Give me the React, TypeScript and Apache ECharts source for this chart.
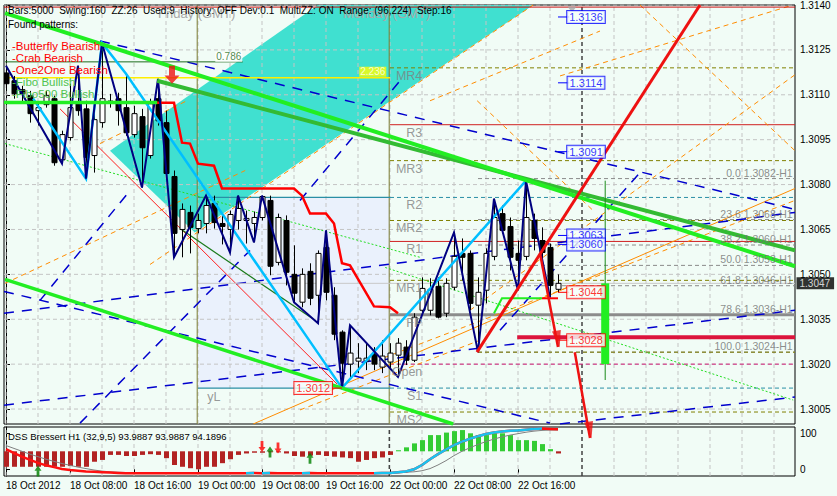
import React, { useEffect, useRef } from 'react';
import * as echarts from 'echarts';

const FONT = '"Liberation Sans", Arial, Helvetica, sans-serif';
const BG = '#f1fcf6';

// ---- hourly candles, index 0 = 18 Oct 2012 00:00 (index 48 = 22 Oct 00:00) ----
const opens = [
  1.31173, 1.31147, 1.31117, 1.31097, 1.31047, 1.31067, 1.31087, 1.30883, 1.30957, 1.3107,
  1.31053, 1.30897, 1.31007, 1.31077, 1.31087, 1.31057, 1.30967, 1.31027, 1.30897, 1.31087,
  1.31007, 1.30827, 1.3065, 1.30707, 1.30653, 1.3067, 1.30737, 1.3067, 1.3065, 1.3068,
  1.3068, 1.3067, 1.3069, 1.30747, 1.3054, 1.3068, 1.305, 1.30407, 1.3051, 1.3043,
  1.3059, 1.3043, 1.30307, 1.302, 1.3021, 1.3021, 1.30233, 1.3019, 1.30207, 1.3023,
  1.30257, 1.30213, 1.3038, 1.3038, 1.3046, 1.3037, 1.30457, 1.3057, 1.3057, 1.30397,
  1.30447, 1.3056, 1.30703, 1.3066, 1.3057, 1.3056, 1.3068, 1.30613, 1.3059, 1.3045,
];
const closes = [
  1.31137, 1.31103, 1.31103, 1.31037, 1.31057, 1.31097, 1.30873, 1.30967, 1.31057, 1.31047,
  1.3089, 1.31017, 1.31087, 1.31079, 1.31047, 1.30973, 1.31037, 1.30923, 1.3107, 1.31013,
  1.30837, 1.30637, 1.30717, 1.30657, 1.3068, 1.3073, 1.30673, 1.3066, 1.307, 1.3072,
  1.30687, 1.3069, 1.3076, 1.30527, 1.3069, 1.30507, 1.30437, 1.305, 1.3042, 1.3057,
  1.3044, 1.303, 1.30203, 1.30237, 1.3022, 1.3022, 1.302, 1.30227, 1.30237, 1.3027,
  1.30213, 1.30357, 1.30453, 1.3045, 1.30357, 1.3047, 1.3056, 1.30557, 1.30403, 1.3044,
  1.3057, 1.3069, 1.30647, 1.30557, 1.30547, 1.3069, 1.3062, 1.30573, 1.30463, 1.3047,
];
const lows = [
  1.31113, 1.31087, 1.31073, 1.31007, 1.30997, 1.31057, 1.30863, 1.3087, 1.30947, 1.3103,
  1.3082, 1.3084, 1.3099, 1.31057, 1.30997, 1.30963, 1.30957, 1.3079, 1.30887, 1.30997,
  1.30823, 1.30557, 1.30557, 1.3057, 1.30637, 1.30637, 1.30653, 1.306, 1.30573, 1.3065,
  1.30603, 1.30607, 1.3068, 1.30497, 1.3053, 1.30463, 1.30407, 1.3039, 1.30397, 1.30337,
  1.30413, 1.3028, 1.3012, 1.30157, 1.3017, 1.3018, 1.3018, 1.3017, 1.3018, 1.30157,
  1.30197, 1.30207, 1.3037, 1.30363, 1.30353, 1.30357, 1.30447, 1.3048, 1.3038, 1.3024,
  1.30403, 1.30547, 1.30637, 1.30513, 1.30447, 1.30547, 1.3058, 1.30553, 1.30423, 1.3044,
];
const highs = [
  1.31197, 1.31163, 1.3113, 1.31113, 1.31073, 1.31113, 1.31097, 1.3098, 1.31137, 1.31197,
  1.3108, 1.31057, 1.31273, 1.31103, 1.31107, 1.3117, 1.31063, 1.31053, 1.31087, 1.31153,
  1.31047, 1.30847, 1.30737, 1.3073, 1.30703, 1.30763, 1.30763, 1.30703, 1.30713, 1.30763,
  1.30713, 1.3071, 1.30763, 1.30763, 1.30703, 1.30697, 1.30597, 1.3052, 1.30537, 1.3058,
  1.30647, 1.30457, 1.30313, 1.3033, 1.3027, 1.3027, 1.30257, 1.3028, 1.3027, 1.30287,
  1.3028, 1.3037, 1.3049, 1.30487, 1.3049, 1.30487, 1.3064, 1.3062, 1.3058, 1.3049,
  1.30587, 1.30753, 1.3073, 1.3069, 1.30613, 1.30813, 1.30703, 1.30657, 1.30603, 1.305,
];

// ---- DSS Bressert pane ----
const dssHist = [
  7, 7, 7, 7, 7, 7, 7, 7, 9, 7,
  7, 21, 26, 40, 40, 37, 37, 40, 42, 40,
  31, 12, 7, 3, 0, 7, 7, 17, 28, 40,
  44, 46, 46, 48, 47, 44, 37, 35, 38, 40,
  37, 35, 33, 31, 21, 26, 31, 33, 40, 53,
  61, 72, 81, 95, 95, 102, 106, 109, 100, 95,
  95, 100, 100, 95, 81, 81, 79, 70, 56, 44,
];
const dssMain = [
  56, 45, 35, 26, 18, 11, 6, 1, -2, -4,
  -6, -7, -8, -9, -10, -11, -11, -11, -11, -11,
  -11, -11, -11, -11, -11, -11, -11, -11, -11, -11,
  -11, -10, -11, -10, -11, -11, -11, -11, -10, -11,
  -11, -11, -11, -11, -11, -11, -11, -10.5, -10, -8,
  -6, 0, 12, 28, 42, 55, 67, 77, 85, 92,
  98, 102, 105, 107, 108, 110, 112, 113, 112, 111,
];
const dssSignal = [
  66, 58, 50, 42, 35, 28, 22, 16, 11, 6,
  2, -2, -5, -7, -8, -9, -9.5, -9.5, -9.5, -9.5,
  -9.5, -9.5, -9.5, -9.5, -9.5, -9.5, -9.5, -9.5, -9.5, -9.5,
  -9.5, -9.5, -9.5, -9.5, -9.5, -9.5, -9.5, -9.5, -9.5, -9.5,
  -9.5, -9.5, -9.5, -9.5, -9.5, -9.5, -9.5, -9.5, -9.5, -9.5,
  -8, -7, -4, 2, 12, 24, 38, 50, 60, 69,
  77, 84, 90, 95, 99, 103, 106, 108, 109, 109,
];
const dssUpArrows = [[4, -5], [33, 48], [38, 31]];
const dssDownArrows = [[32, 63], [34, 59]];

// ---- axes ----
const priceTicks = [1.3005, 1.302, 1.3035, 1.305, 1.3065, 1.308, 1.3095, 1.311, 1.3125, 1.314];
const timeTickIdx = [0, 8, 16, 24, 32, 40, 48, 56, 64];
const timeTickLabels = ['18 Oct 2012', '18 Oct 08:00', '18 Oct 16:00', '19 Oct 00:00', '19 Oct 08:00', '19 Oct 16:00', '22 Oct 00:00', '22 Oct 08:00', '22 Oct 16:00'];
const gridIdx = [0, 4, 8, 12, 16, 20, 24, 28, 32, 36, 40, 44, 48, 52, 56, 60, 64, 68, 72, 76, 80, 84, 88, 92, 96];
const daySeparators = [23.9, 47.9];
const nowMarker = 72;
const lastPrice = 1.3047;

// ---- objects drawn on the chart (time index, price) ----
const cyanPoly = [[13, 1.30913], [23.6, 1.3064], [65.9, 1.314], [39, 1.314]];
const lavRect = [[24, 1.30757], [48, 1.3012]];
const zigzagNavy = [[0, 1.31197], [7, 1.3087], [9, 1.31197], [10, 1.3082], [12, 1.31273], [17, 1.3079], [19, 1.31153], [21, 1.30557], [25, 1.30763], [28, 1.30573], [29, 1.30763], [31, 1.30607], [32, 1.30763], [36, 1.30407], [39, 1.30337], [40, 1.30647], [42, 1.3012], [43, 1.3033], [49, 1.30157], [56, 1.3064], [59, 1.3024], [61, 1.30753], [64, 1.30447], [65, 1.30813], [68, 1.30423]];
const zigzagSky = [[3.4, 1.31087], [10, 1.3082], [12, 1.31273], [15, 1.3117], [42, 1.3012], [65, 1.30813]];
const kijun = [[16, 1.31073], [21, 1.31073], [22, 1.3094], [23, 1.30937], [24, 1.3087], [26, 1.30863], [27, 1.30787], [36, 1.30787], [37, 1.30763], [38, 1.30703], [40, 1.30703], [41, 1.3067], [42, 1.30537], [43, 1.3053], [46, 1.30393], [48, 1.3039], [49, 1.3037]];
const greenUpper = [[-0.125, 1.31373], [98.625, 1.30527]];
const greenMid = [[18.9, 1.31147], [98.625, 1.3058]];
const greenLower = [[-0.125, 1.30483], [55.9, 1.3]];
const greenFlat = [[-0.25, 1.31074], [18.9, 1.31074]];
const redTrend = [[58.875, 1.3024], [86.75, 1.314]];
const redArrows = [[[66.75, 1.3057], [69, 1.30257]], [[71.1, 1.3024], [73, 1.29953]]];
const redArrowTilt = [11, 10];
const crimsonLevel = [[63.9, 1.3029], [98.625, 1.3029]];
const bidLine = [[24, 1.3047], [98.625, 1.3047]];
const yellowLevel = [[-0.25, 1.31157], [48, 1.31157]];
const darkGreenLevel = [[-0.125, 1.3121], [29.6, 1.3121]];
const topRedLevel = [[-0.25, 1.31393], [98.625, 1.31393]];
const greenStep = [[61, 1.3037], [62, 1.3042], [67, 1.3042]];
const redStep = [[67, 1.3042], [69, 1.3042]];
const darkGreenDiag = [[21.75, 1.30653], [38.25, 1.30353]];
const redThinDiag = [[6.75, 1.31053], [41.4, 1.30133]];
const greenDotted = [[[-0.125, 1.30937], [51.75, 1.30557]], [[47.4, 1.30523], [98.4, 1.3008]]];
const navyDashed = [
  [[11.75, 1.3128], [98.625, 1.30717]],
  [[-0.25, 1.30443], [68, 1.30003]],
  [[-0.25, 1.30063], [98.625, 1.3038]],
  [[-0.25, 1.3037], [98.625, 1.30707]],
  [[69.25, 1.3], [98.625, 1.3009]],
  [[9.25, 1.30003], [30.5, 1.3058]],
  [[4.25, 1.30413], [15.5, 1.3078]],
  [[61.75, 1.30313], [79.25, 1.3084]],
  [[36.75, 1.30747], [49.25, 1.31147]],
];
const orangeDashed = [
  [[47.4, 1.30223], [98.625, 1.30747]],
  [[18, 1.30533], [65.9, 1.314]],
  [[58, 1.3038], [98.625, 1.31167]],
  [[53, 1.3108], [74.25, 1.31313]],
  [[69.25, 1.31163], [98, 1.31397]],
  [[58.9, 1.3108], [73.4, 1.30713]],
  [[79.25, 1.314], [98.625, 1.30913]],
  [[-0.125, 1.3047], [29.9, 1.30847]],
  [[36.75, 1.30047], [59.25, 1.3028]],
  [[11.75, 1.30937], [22.6, 1.3108]],
];
const orangeSolid = [[30.9, 1.3], [98.625, 1.30787]];
const greenBar = [[74.9, 1.302], [74.9, 1.3047]];
const greenThinV = [[74.9, 1.30147], [74.9, 1.30813]];

const pivotNames = ['MR4', 'R3', 'MR3', 'R2', 'MR2', 'R1', 'MR1', 'FP', 'Open', 'S1', 'MS2'];
const pivotPrices = [1.3119, 1.31, 1.3088, 1.30757, 1.3068, 1.3061, 1.3048, 1.30365, 1.302, 1.3012, 1.3004];
const pivotStart = 48;
const pivotLabelIdx = 52.1;

const fibLabels = ['0.0 1.3082-H1', '23.6 1.3068-H1', '38.2 1.3060-H1', '50.0 1.3053-H1', '61.8 1.3046-H1', '78.6 1.3036-H1', '100.0 1.3024-H1'];
const fibPrices = [1.3082, 1.30683, 1.30598, 1.3053, 1.30462, 1.30364, 1.3024];
const fibStart = 59;

const blueBoxPrices = [1.3136, 1.3114, 1.3091, 1.3063, 1.306];
const redBoxPrices = [1.3044, 1.3028];
const boxIdx = 72.5;
const lowBox = [38.4, 1.3012];

const X0 = -0.25, X1 = 98.625, Y0 = 1.3, Y1 = 1.314;

function buildOption() {
  const L = (data: any[], color: string, width: number, type: any = 'solid', z = 3, axis = 0, extra: any = {}) => ({
    type: 'lines', coordinateSystem: 'cartesian2d', xAxisIndex: axis, yAxisIndex: axis,
    polyline: true, silent: true, z, clip: true,
    data: data.map((c: any) => ({ coords: c })),
    lineStyle: { color, width, type, opacity: 1, curveness: 0 },
    ...extra,
  });
  const labels = (items: any[], label: any, z = 20, axis = 0) => ({
    type: 'scatter', xAxisIndex: axis, yAxisIndex: axis, symbol: 'rect', symbolSize: 1, silent: true, z,
    itemStyle: { color: 'rgba(0,0,0,0)' },
    data: items.map((it: any) => ({ value: [it[0], it[1]], name: it[2] })),
    label: { show: true, formatter: '{b}', fontFamily: FONT, ...label },
  });
  const pivotStyle = (n: string) => {
    if (n === 'R3' || n === 'R1') return ['#d02020', 1, 'solid'];
    if (n === 'R2' || n === 'S1') return ['#2a8fa5', 1, [4, 3]];
    if (n === 'FP') return ['#8c8c8c', 3, 'solid'];
    if (n === 'Open') return ['#d0207a', 1, [4, 3]];
    return ['#808000', 1, [4, 3]];
  };

  const series: any[] = [];

  // lavender box and cyan channel
  series.push({
    type: 'custom', xAxisIndex: 0, yAxisIndex: 0, z: 1, silent: true, clip: true, data: [[0, 1.3]],
    renderItem: (_p: any, api: any) => {
      const a = api.coord(lavRect[0]); const b = api.coord(lavRect[1]);
      return { type: 'rect', shape: { x: a[0], y: a[1], width: b[0] - a[0], height: b[1] - a[1] }, style: { fill: '#eaf1fc' } };
    },
  });
  series.push({
    type: 'custom', xAxisIndex: 0, yAxisIndex: 0, z: 1, silent: true, clip: true, data: [[0, 1.3]],
    renderItem: (_p: any, api: any) => ({ type: 'polygon', shape: { points: cyanPoly.map((p) => api.coord(p)) }, style: { fill: '#40e0d0' } }),
  });

  // grid lines
  series.push(L(priceTicks.map((p) => [[X0, p], [X1, p]]), '#c4c4c4', 1, [4, 3], 2));
  series.push(L(gridIdx.map((i) => [[i, Y0], [i, Y1]]), '#c4c4c4', 1, [4, 3], 2));
  series.push(L(daySeparators.map((i) => [[i, Y0], [i, Y1]]), '#7a7a30', 1, 'solid', 2));
  series.push(L([[[nowMarker, Y0], [nowMarker, Y1]]], '#000', 1, [4, 3], 2));

  // teal box edges
  series.push(L([[[24, 1.30757], [48, 1.30757]], [[24, 1.3012], [48, 1.3012]]], '#2a8fa5', 1.2, 'solid', 3));

  // pivot levels
  pivotNames.forEach((n, k) => {
    const s = pivotStyle(n);
    series.push(L([[[pivotStart, pivotPrices[k]], [X1, pivotPrices[k]]]], s[0] as string, s[1] as number, s[2], 3));
  });
  // fib levels
  series.push(L(fibPrices.filter((_p, k) => k !== 5).map((p) => [[fibStart, p], [X1, p]]), '#8a8a8a', 1, [4, 3], 3));
  series.push(L([[[fibStart, fibPrices[6]], [X1, fibPrices[6]]]], '#808000', 1, [4, 3], 3));

  // dashed fans
  series.push(L(orangeDashed, '#ff8c00', 1, [5, 4], 3));
  series.push(L([orangeSolid], '#ff8c00', 1, 'solid', 3));
  series.push(L(navyDashed, '#0000cd', 1.5, [10, 8], 3));
  series.push(L(greenDotted, '#22dd22', 1, [2, 2], 3));
  series.push(L([redThinDiag], '#ff2020', 1, 'solid', 3));
  series.push(L([darkGreenDiag], '#1a7a1a', 1.2, 'solid', 3));
  series.push(L([topRedLevel], '#cc1111', 1, 'solid', 3));
  series.push(L([bidLine], '#c8c8c8', 1, 'solid', 3));
  series.push(L([darkGreenLevel], '#1c6b1c', 1, 'solid', 3));
  series.push(L([yellowLevel], '#ffee00', 1.5, 'solid', 3));

  // candles
  series.push({
    type: 'custom', xAxisIndex: 0, yAxisIndex: 0, z: 5, silent: true, clip: true,
    data: opens.map((o, i) => [i, o, closes[i], lows[i], highs[i]]),
    encode: { x: 0, y: [1, 2, 3, 4] },
    renderItem: (_p: any, api: any) => {
      const i = api.value(0), o = api.value(1), c = api.value(2), l = api.value(3), h = api.value(4);
      const po = api.coord([i, o]), pc = api.coord([i, c]), pl = api.coord([i, l]), ph = api.coord([i, h]);
      const x = Math.round(po[0]) + 0.5;
      const top = Math.min(po[1], pc[1]), bot = Math.max(po[1], pc[1]);
      const bull = c >= o;
      return {
        type: 'group', children: [
          { type: 'line', shape: { x1: x, y1: ph[1], x2: x, y2: pl[1] }, style: { stroke: '#000', lineWidth: 1 } },
          { type: 'rect', shape: { x: x - 2.5, y: top, width: 5, height: Math.max(1, bot - top) }, style: { fill: bull ? '#fff' : '#000', stroke: '#000', lineWidth: 1 } },
        ],
      };
    },
  });

  // indicator lines over candles
  series.push(L([kijun], '#ff0000', 2.5, 'solid', 6));
  series.push(L([zigzagSky], '#00bfff', 2.5, 'solid', 6));
  series.push(L([zigzagNavy], '#000080', 2, 'solid', 6));
  series.push(L([greenFlat], '#22ee22', 3.5, 'solid', 6));
  series.push(L([greenLower], '#22ee22', 3.5, 'solid', 7));
  series.push(L([greenMid], '#33bb33', 4, 'solid', 7));
  series.push(L([greenUpper], '#22ee22', 4, 'solid', 7));
  series.push(L([greenStep], '#22ee22', 2, 'solid', 7));
  series.push(L([redStep], '#ff0000', 2, 'solid', 7));
  series.push(L([crimsonLevel], '#dc143c', 4, 'solid', 7));
  series.push(L([greenThinV], '#1a8a1a', 1, 'solid', 7));
  series.push(L([greenBar], '#22ee22', 8, 'solid', 7));
  series.push(L([redTrend], '#ee1111', 3, 'solid', 8));
  series.push(L(redArrows, '#ee1111', 2.5, 'solid', 8, 0, { clip: false }));
  series.push({
    type: 'scatter', xAxisIndex: 0, yAxisIndex: 0, silent: true, z: 9, clip: false,
    symbol: 'path://M0,0L10,0L5,18Z', symbolSize: [9, 17], symbolOffset: [0, -8],
    itemStyle: { color: '#ee1111' },
    data: redArrows.map((a, k) => ({ value: a[1], symbolRotate: redArrowTilt[k] })),
  });

  // markers
  series.push({
    type: 'scatter', xAxisIndex: 0, yAxisIndex: 0, silent: true, z: 9,
    symbol: 'path://M3,0L7,0L7,7L10,7L5,13L0,7L3,7Z', symbolSize: [15, 18],
    itemStyle: { color: '#ee1111' }, data: [[20.75, 1.31167]],
  });
  series.push({
    type: 'scatter', xAxisIndex: 0, yAxisIndex: 0, silent: true, z: 9,
    symbol: 'triangle', symbolRotate: 180, symbolSize: [9, 6],
    itemStyle: { color: '#a8a8a8' }, data: [[70.75, 1.31385]],
  });

  // texts tied to prices
  series.push(labels(pivotNames.map((n, k) => [pivotLabelIdx, pivotPrices[k], n]), { position: 'left', distance: 0, offset: [0, 8], color: '#7f7f7f', fontSize: 12.5 }));
  series.push(labels(fibLabels.map((t, k) => [98.4, fibPrices[k], t]), { position: 'left', distance: 0, offset: [0, -6], color: '#707070', fontSize: 10.5 }));
  series.push(labels([[29.6, 1.3121, '0.786']], { position: 'left', distance: 0, offset: [0, -5], color: '#1c6b1c', fontSize: 10, backgroundColor: '#ffffff', padding: [0, 1] }));
  series.push(labels([[47.6, 1.31157, '2.236']], { position: 'left', distance: 0, offset: [0, -6], color: '#ffffff', fontSize: 10, backgroundColor: '#ffff00', padding: [0, 1] }));
  series.push(labels([[25.1, 1.3012, 'yL']], { position: 'right', distance: 0, offset: [0, 9], color: '#7f7f7f', fontSize: 12.5 }));

  // price boxes with leaders
  series.push(L(blueBoxPrices.map((p) => [[69, p], [70.4, p]]), '#0000ff', 1, 'solid', 9));
  series.push(L(redBoxPrices.map((p) => [[69, p], [70.4, p]]).concat([[[40.7, lowBox[1]], [42, lowBox[1]]]]), '#ff0000', 1, 'solid', 9));
  const boxLbl = (c: string) => ({ position: 'inside', color: c, fontSize: 11, backgroundColor: '#f8fffb', borderColor: c, borderWidth: 1, padding: [1, 2, 0, 2] });
  series.push(labels(blueBoxPrices.map((p) => [boxIdx, p, p.toFixed(4)]), boxLbl('#0000ff'), 21));
  series.push(labels(redBoxPrices.map((p) => [boxIdx, p, p.toFixed(4)]).concat([[lowBox[0], lowBox[1], lowBox[1].toFixed(4)]]), boxLbl('#ff0000'), 21));
  series.push(labels([[X1, lastPrice, lastPrice.toFixed(4)]], { position: 'right', distance: 1, color: '#ffffff', fontSize: 10, backgroundColor: '#000000', padding: [1, 4, 1, 3] }, 22));

  // ---- lower pane ----
  series.push(L(gridIdx.map((i) => [[i, -18.6], [i, 117.5]]), '#c4c4c4', 1, [4, 3], 2, 1));
  series.push(L([[[47.9, -18.6], [47.9, 117.5]], [[nowMarker, -18.6], [nowMarker, 117.5]]], '#000', 1, [4, 3], 2, 1));
  series.push({
    type: 'custom', xAxisIndex: 1, yAxisIndex: 1, z: 4, silent: true, clip: true,
    data: dssHist.map((v, i) => [i, v]), encode: { x: 0, y: 1 },
    renderItem: (_p: any, api: any) => {
      const i = api.value(0), v = api.value(1);
      const a = api.coord([i, 50]), b = api.coord([i, v]);
      const x = Math.round(a[0]) - 2;
      return { type: 'rect', shape: { x, y: Math.min(a[1], b[1]), width: 5, height: Math.max(1, Math.abs(b[1] - a[1])) }, style: { fill: v >= 50 ? '#33cc33' : '#b22222' } };
    },
  });
  series.push(L([dssSignal.map((v, i) => [i, v])], '#808080', 1, 'solid', 5, 1));
  series.push(L([dssMain.map((v, i) => [i, v])], '#ff1010', 2.5, 'solid', 6, 1));
  const rising: any[] = [];
  dssMain.forEach((v, i) => { if (i > 0 && v > dssMain[i - 1]) rising.push([[i - 1, dssMain[i - 1]], [i, v]]); });
  series.push(L(rising, '#19c3f0', 2.5, 'solid', 7, 1));
  series.push({
    type: 'scatter', xAxisIndex: 1, yAxisIndex: 1, silent: true, z: 8,
    symbol: 'path://M5,0L10,6L7,6L7,13L3,13L3,6L0,6Z', symbolSize: [7, 11],
    itemStyle: { color: '#008000' }, data: dssUpArrows,
  });
  series.push({
    type: 'scatter', xAxisIndex: 1, yAxisIndex: 1, silent: true, z: 8,
    symbol: 'path://M3,0L7,0L7,7L10,7L5,13L0,7L3,7Z', symbolSize: [7, 11],
    itemStyle: { color: '#ff0000' }, data: dssDownArrows,
  });

  const txt = (x: number, y: number, text: string, fill: string, size: number, z = 50) => ({
    type: 'text', x, y, z, silent: true, style: { text, fill, font: `${size}px ${FONT}` },
  });

  return {
    animation: false,
    backgroundColor: BG,
    grid: [
      { left: 4, top: 4, width: 791, height: 420, show: true, backgroundColor: BG, borderColor: '#000', borderWidth: 1 },
      { left: 4, top: 427, width: 791, height: 49, show: true, backgroundColor: BG, borderColor: '#000', borderWidth: 1 },
    ],
    xAxis: [
      { gridIndex: 0, type: 'value', min: X0, max: X1, show: false },
      {
        gridIndex: 1, type: 'value', min: X0, max: X1, position: 'bottom',
        axisLine: { show: false }, splitLine: { show: false },
        axisTick: { show: true, customValues: timeTickIdx, length: 4, lineStyle: { color: '#000' } },
        axisLabel: {
          show: true, customValues: timeTickIdx, align: 'left', color: '#000', fontFamily: FONT, fontSize: 10, margin: 4,
          formatter: (v: number) => { const k = timeTickIdx.indexOf(Math.round(v)); return k >= 0 ? timeTickLabels[k] : ''; },
        },
      },
    ],
    yAxis: [
      {
        gridIndex: 0, type: 'value', min: Y0, max: Y1, position: 'right',
        axisLine: { show: true, lineStyle: { color: '#000' } },
        axisTick: { show: true, customValues: priceTicks, length: 4, lineStyle: { color: '#000' } },
        axisLabel: { show: true, customValues: priceTicks, formatter: (v: number) => v.toFixed(4), color: '#000', fontFamily: FONT, fontSize: 10, margin: 5 },
        splitLine: { show: false },
      },
      {
        gridIndex: 1, type: 'value', min: -18.6, max: 117.5, position: 'right',
        axisLine: { show: true, lineStyle: { color: '#000' } },
        axisTick: { show: true, customValues: [0, 100], length: 4, lineStyle: { color: '#000' } },
        axisLabel: { show: true, customValues: [0, 100], formatter: (v: number) => String(Math.round(v)), color: '#000', fontFamily: FONT, fontSize: 10, margin: 5 },
        splitLine: { show: false },
      },
    ],
    graphic: [
      txt(158, 7, 'Friday (GMT)', '#a8a8a8', 13, 40),
      txt(343, 7, 'Monday (GMT)', '#a8a8a8', 13, 40),
      txt(8, 5, 'Bars:5000  Swing:160  ZZ:26  Used:9  History: OFF Dev:0.1  MultiZZ: ON  Range: (96,224)  Step:16', '#000', 10),
      txt(8, 19, 'Found patterns:', '#000', 10),
      txt(12, 40, '-Butterfly Bearish', '#ff0000', 11.5),
      txt(12, 52, '-Crab Bearish', '#ff0000', 11.5),
      txt(12, 64, '-One2One Bearish', '#ff0000', 11.5),
      txt(12, 76, '-Fibo Bullish', '#4fc34f', 11.5),
      txt(12, 88, '-Fibo500 Bullish', '#4fc34f', 11.5),
      txt(8, 431, 'DSS Bressert H1 (32,9,5) 93.9887 93.9887 94.1896', '#000', 9.5),
    ],
    series,
  };
}

export default function App() {
  const ref = useRef<HTMLDivElement>(null);
  useEffect(() => {
    document.body.style.margin = '0';
    const chart = echarts.init(ref.current as HTMLDivElement, null, { renderer: 'svg' });
    chart.setOption(buildOption() as any);
    return () => chart.dispose();
  }, []);
  return <div ref={ref} style={{ width: 837, height: 496 }} />;
}
